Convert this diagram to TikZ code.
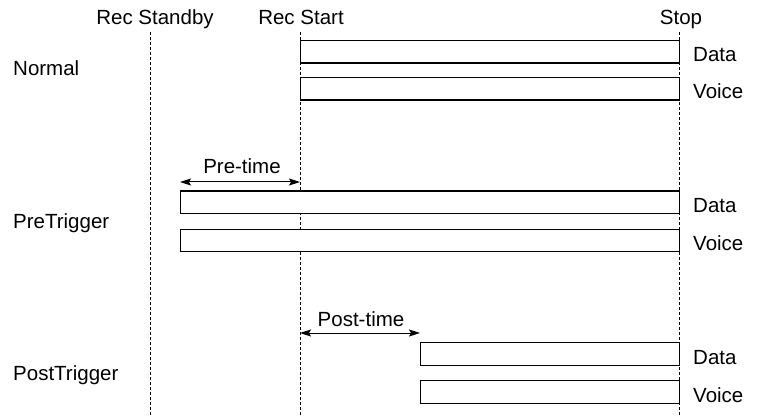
\documentclass[tikz,border=0pt]{standalone}
\usepackage{fontspec}
\setmainfont{Liberation Sans}
\usetikzlibrary{arrows.meta}
\begin{document}
\begin{tikzpicture}[x=1pt,y=-1pt,
  every node/.style={inner sep=0pt,font=\fontsize{20.5}{24}\selectfont},
  guide/.style={draw=black,line width=0.8pt,dash pattern=on 3pt off 2pt},
  bar/.style={draw=black,line width=1.3pt,fill=white,rectangle,anchor=north west,minimum height=22.5pt},
  span/.style={line width=1pt,{Stealth[length=11pt,width=7pt,inset=2pt]}-{Stealth[length=11pt,width=7pt,inset=2pt]}},
  lbl/.style={anchor=base west},
  top/.style={anchor=base}]
\useasboundingbox (0,0) rectangle (758,417);
% guide lines
\coordinate (g1t) at (150,32); \coordinate (g1b) at (150,417);
\coordinate (g2t) at (300,32); \coordinate (g2b) at (300,417);
\coordinate (g3t) at (679,32); \coordinate (g3b) at (679,417);
\draw[guide] (g1t) -- (g1b);
\draw[guide] (g2t) -- (g2b);
\draw[guide] (g3t) -- (g3b);
% column titles
\node[top] (tstandby) at (155,25) {Rec Standby};
\node[top] (tstart) at (301,25) {Rec Start};
\node[top] (tstop) at (681,25) {Stop};
% Normal
\node[lbl] (normal) at (13,76) {Normal};
\node[bar,minimum width=379pt] (nd) at (300,40) {};
\node[bar,minimum width=379pt] (nv) at (300,77) {};
\node[lbl] (ndl) at (693,62) {Data};
\node[lbl] (nvl) at (693,99) {Voice};
% PreTrigger
\node[lbl] (pre) at (13,228) {PreTrigger};
\coordinate (pa) at (180,182); \coordinate (pb) at (300,182);
\draw[span] (pa) -- (pb);
\node[top] (pretime) at (242,174) {Pre-time};
\node[bar,minimum width=499pt] (pd) at (180,190.5) {};
\node[bar,minimum width=499pt] (pv) at (180,228.5) {};
\node[lbl] (pdl) at (693,212) {Data};
\node[lbl] (pvl) at (693,250) {Voice};
% PostTrigger
\node[lbl] (post) at (13,380) {PostTrigger};
\coordinate (qa) at (300,333); \coordinate (qb) at (420,333);
\draw[span] (qa) -- (qb);
\node[top] (posttime) at (361,326) {Post-time};
\node[bar,minimum width=259pt] (qd) at (420,342) {};
\node[bar,minimum width=259pt] (qv) at (420,380) {};
\node[lbl] (qdl) at (693,364) {Data};
\node[lbl] (qvl) at (693,402) {Voice};
\end{tikzpicture}
\end{document}
